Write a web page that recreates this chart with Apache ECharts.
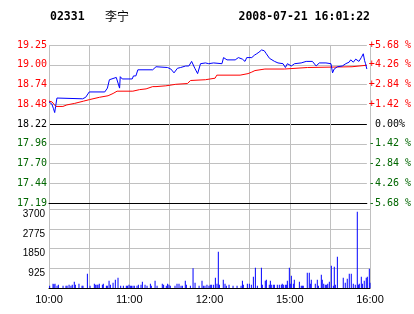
<!DOCTYPE html>
<html><head><meta charset="utf-8">
<script src="https://cdn.jsdelivr.net/npm/echarts@6/dist/echarts.min.js"></script>
<style>html,body{margin:0;padding:0;background:#fff}#c{width:414px;height:314px}</style>
</head><body><div id="c"></div>
<script>
const stockCode = '02331';
const stockName = '李宁';
const stamp = '2008-07-21 16:01:22';
const prevClose = 18.22;
const priceTicks = ['17.19','17.44','17.70','17.96','18.22','18.48','18.74','19.00','19.25'];
const pctTicks = ['-5.68 %','-4.26 %','-2.84 %','-1.42 %',' 0.00%','+1.42 %','+2.84 %','+4.26 %','+5.68 %'];
const volTicks = ['', '925', '1850', '2775', '3700'];
const timeTicks = ['10:00','','11:00','','12:00','','15:00','','16:00'];

const priceMin = [0,2.2,3.4,4.3,5.0,6.0,25.4,27.7,30.4,42.1,44.1,45.6,50.8,52.1,53.3,53.8,55.3,62.8,63.8,65.6,67.1,78.3,80.8,89.5,92.0,94.4,97.0,99.4,103.2,105.6,107.7,110.1,112.2,114.4,118.1,120.6,124.3,130.6,131.8,134.4,140.6,143.0,146.0,148.0,149.3,153.1,155.0,156.8,158.5,160.5,162.5,164.1,166.5,170.3,172.9,176.7,178.5,180.0,183.0,185.4,190.4,194.2,198.9,200.4,201.7,204.1,209.1,212.9,214.1,215.3,217.8,221.5,224.1,226.6,227.8,229.8,231.6,234.0,235.8,237.3,238.3,239.0,240];
const priceVal = [18.51,18.48,18.42,18.37,18.45,18.56,18.55,18.57,18.64,18.64,18.69,18.80,18.83,18.85,18.69,18.84,18.81,18.81,18.85,18.85,18.93,18.93,18.97,18.96,18.94,18.89,18.95,18.96,18.98,18.98,19.04,18.95,18.88,19.01,19.02,19.01,19.02,19.01,19.09,19.06,19.06,19.09,19.07,19.04,19.09,19.09,19.12,19.14,19.16,19.19,19.18,19.14,19.08,19.04,19.02,19.01,18.96,19.01,18.98,19.01,19.02,19.04,19.04,19.02,18.98,19.02,19.02,19.01,18.89,18.94,18.97,18.98,19.01,19.03,19.06,19.03,19.07,19.04,19.09,19.14,19.05,19.01,18.94];

const avgMin = [0,2.2,3.7,5.2,10.5,13.5,19.4,26.2,30.7,38.1,44.6,48.4,51.4,63.3,68.3,73.3,78.3,80.8,88.2,95.7,104.5,106.9,118.1,125.4,126.7,144.3,150.3,153.1,155.5,163.0,177.7,178.9,195.2,196.6,228.8,230.3,240];
const avgVal = [18.52,18.51,18.48,18.45,18.45,18.47,18.49,18.52,18.54,18.57,18.59,18.62,18.65,18.65,18.67,18.68,18.71,18.71,18.72,18.74,18.75,18.79,18.80,18.82,18.86,18.86,18.88,18.90,18.92,18.94,18.94,18.95,18.96,18.96,18.97,18.98,18.99];

const volMin = [0.5,3.0,3.7,4.5,6.0,7.0,10.5,12.7,13.5,15.0,16.4,17.4,18.9,19.7,22.4,24.7,25.4,28.7,30.7,33.9,34.9,35.9,36.6,37.6,39.9,40.6,42.9,43.6,44.9,45.9,47.9,49.6,51.6,53.6,55.6,57.8,58.6,59.8,60.8,61.6,62.8,63.8,65.8,66.8,68.8,69.8,71.8,73.3,75.8,76.5,79.3,80.8,84.7,85.7,87.7,88.7,89.7,90.7,94.2,95.7,97.2,98.7,99.7,101.9,102.7,105.7,107.7,109.2,112.2,114.4,115.4,116.6,118.1,119.6,
120.6,121.6,123.1,124.4,125.6,126.6,127.4,130.3,131.6,132.6,134.6,137.6,140.6,143.6,144.6,145.3,148.3,149.8,151.3,152.8,154.3,155.8,158.8,159.5,161.7,162.5,164.7,165.5,166.2,167.7,168.5,170.7,172.2,173.7,174.4,175.2,176.7,177.7,178.2,179.7,180.4,181.2,182.7,183.4,187.2,188.6,189.4,190.1,193.1,194.6,195.4,196.1,199.1,200.6,201.4,203.6,204.3,205.4,206.6,207.6,208.4,209.6,211.1,212.6,213.3,214.1,215.6,220.0,221.5,223.0,224.5,226.0,227.5,229.0,230.5,231.3,232.0,233.5,234.3,235.7,237.2,238.0,239.5,240];
const volVal = [109,203,172,203,109,156,109,109,109,156,109,156,297,156,203,109,109,671,109,203,156,156,156,203,156,203,109,109,343,156,250,390,484,109,109,109,109,156,109,109,109,109,109,156,156,297,156,109,203,109,343,109,203,156,109,203,156,109,109,203,203,109,109,343,156,109,921,250,109,343,109,109,156,109,
156,156,156,484,203,1702,156,390,203,109,156,109,109,109,343,156,203,203,156,531,952,109,952,156,343,390,156,343,156,156,156,156,156,156,203,156,156,156,343,952,203,578,203,390,297,109,109,109,718,718,203,390,203,390,109,624,390,203,156,156,203,297,1046,109,999,156,1468,484,250,437,671,671,203,156,3575,156,203,531,203,343,484,531,905,250];

const toPct = p => (p / prevClose - 1) * 100;
const pIdx = v => Math.round((v + 5.68) / 1.42);
const red = '#ff0000', green = '#006600', grid = '#c0c0c0';
const labFont = 'DejaVu Sans Mono';

const chart = echarts.init(document.getElementById('c'), null, {renderer: 'canvas'});
chart.setOption({
  animation: false,
  backgroundColor: '#fff',
  title: [
    {text: stockCode, left: 50, top: 11, padding: 0, textStyle: {fontFamily: labFont, fontWeight: 'bold', fontSize: 11.5, color: '#000'}},
    {text: stockName, left: 105, top: 10, padding: 0, textStyle: {fontFamily: 'Noto Sans CJK SC', fontWeight: 'normal', fontSize: 12, color: '#000'}},
    {text: stamp, right: 44, top: 11, padding: 0, textStyle: {fontFamily: labFont, fontWeight: 'bold', fontSize: 11.5, color: '#000'}}
  ],
  grid: [
    {left: 49, right: 44, top: 45, height: 158},
    {left: 49, right: 44, top: 209, height: 79},
    {left: 49, right: 44, top: 45, height: 243}
  ],
  xAxis: [
    {gridIndex: 0, type: 'value', min: 0, max: 240, interval: 30, axisLabel: {show: false}, axisTick: {show: false}, splitLine: {show: false},
     axisLine: {show: true, onZero: false, lineStyle: {color: '#000', width: 1}}},
    {gridIndex: 1, type: 'value', min: 0, max: 240, interval: 30, axisTick: {show: false}, splitLine: {show: false},
     axisLine: {show: true, onZero: false, lineStyle: {color: '#000', width: 1}},
     axisLabel: {show: true, margin: 6, color: '#000', fontFamily: 'Liberation Sans', fontSize: 11,
       formatter: v => timeTicks[Math.round(v / 30)] || ''}},
    {gridIndex: 2, type: 'value', min: 0, max: 240, interval: 30, axisLabel: {show: false}, axisTick: {show: false}, axisLine: {show: false},
     splitLine: {show: true, lineStyle: {color: grid, width: 1}}}
  ],
  yAxis: [
    {gridIndex: 0, type: 'value', min: -5.68, max: 5.68, interval: 1.42, position: 'left',
     axisLine: {show: false}, axisTick: {show: false},
     splitLine: {show: true, lineStyle: {color: ['#000', grid, grid, grid, '#000', grid, grid, grid, grid], width: 1}},
     axisLabel: {margin: 2, fontFamily: labFont, fontSize: 10,
       formatter: v => { const i = pIdx(v); const s = i > 4 ? 'r' : (i < 4 ? 'g' : 'k'); return '{' + s + '|' + priceTicks[i] + '}'; },
       rich: {r: {color: red, fontFamily: labFont, fontSize: 10}, g: {color: green, fontFamily: labFont, fontSize: 10}, k: {color: '#000', fontFamily: labFont, fontSize: 10}}}},
    {gridIndex: 0, type: 'value', min: -5.68, max: 5.68, interval: 1.42, position: 'right',
     axisLine: {show: false}, axisTick: {show: false}, splitLine: {show: false},
     axisLabel: {margin: 2, fontFamily: labFont, fontSize: 10,
       formatter: v => { const i = pIdx(v); const s = i > 4 ? 'r' : (i < 4 ? 'g' : 'k'); return '{' + s + '|' + pctTicks[i] + '}'; },
       rich: {r: {color: red, fontFamily: labFont, fontSize: 10}, g: {color: green, fontFamily: labFont, fontSize: 10}, k: {color: '#000', fontFamily: labFont, fontSize: 10}}}},
    {gridIndex: 1, type: 'value', min: 0, max: 3700, interval: 925, position: 'left',
     axisLine: {show: false}, axisTick: {show: false},
     splitLine: {show: true, lineStyle: {color: grid, width: 1}},
     axisLabel: {margin: 4, color: '#000', fontFamily: 'Liberation Sans', fontSize: 10, verticalAlign: 'top',
       formatter: v => volTicks[Math.round(v / 925)] || ''}},
    {gridIndex: 2, type: 'value', min: 0, max: 1, show: false}
  ],
  series: [
    {type: 'line', xAxisIndex: 0, yAxisIndex: 0, data: avgMin.map((m, i) => [m, toPct(avgVal[i])]),
     showSymbol: false, symbol: 'none', lineStyle: {color: red, width: 1}, z: 3},
    {type: 'line', xAxisIndex: 0, yAxisIndex: 0, data: priceMin.map((m, i) => [m, toPct(priceVal[i])]),
     showSymbol: false, symbol: 'none', lineStyle: {color: '#0000ff', width: 1}, z: 4},
    {type: 'bar', xAxisIndex: 1, yAxisIndex: 2, data: volMin.map((m, i) => [m, volVal[i]]),
     barWidth: 1, itemStyle: {color: '#0000ff'}, z: 3}
  ]
});
</script></body></html>
